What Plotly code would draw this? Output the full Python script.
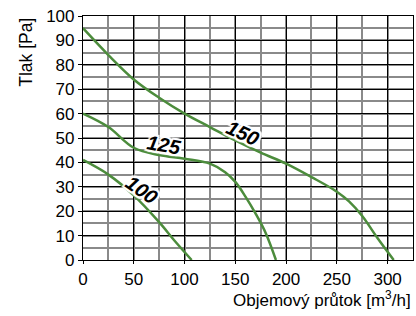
import plotly.graph_objects as go

# Data (flow m3/h, pressure Pa)
x150 = [0, 25, 50, 75, 100, 125, 150, 175, 200, 225, 250, 262, 275, 290, 306]
y150 = [95, 84, 74, 66.5, 60, 54.5, 49, 44, 39.5, 34, 28, 24, 18, 9, 0]

x125 = [0, 25, 50, 75, 100, 125, 140, 150, 160, 170, 180, 190]
y125 = [60, 54.5, 46, 43, 41.5, 39.5, 36, 32, 26, 19, 11, 0]

x100 = [0, 25, 50, 75, 90, 107]
y100 = [41, 35, 26.5, 15.5, 8, 0]

labels = ["150", "125", "100"]
label_x = [157, 80, 58]
label_y = [52, 47, 28.7]
label_angle = [25, 10, 35]

x_ticks = [0, 50, 100, 150, 200, 250, 300]
y_ticks = [0, 10, 20, 30, 40, 50, 60, 70, 80, 90, 100]

green = "#4c8c3c"
fnt = "Liberation Sans, Arial, sans-serif"

fig = go.Figure()
for xs, ys in [(x150, y150), (x125, y125), (x100, y100)]:
    fig.add_trace(go.Scatter(x=xs, y=ys, mode="lines",
                             line=dict(color=green, width=2.5, shape="spline", smoothing=1.0),
                             hoverinfo="skip", showlegend=False))

halo = ("2px 0 1px white, -2px 0 1px white, 0 2px 1px white, 0 -2px 1px white, "
        "2px 2px 1px white, -2px -2px 1px white, 2px -2px 1px white, -2px 2px 1px white")
for t, ax, ay, ang in zip(labels, label_x, label_y, label_angle):
    fig.add_annotation(x=ax, y=ay, text="<b><i>" + t + "</i></b>", showarrow=False,
                       textangle=ang, font=dict(family=fnt, size=20, color="black", shadow=halo))

fig.add_annotation(xref="paper", yref="paper", x=-0.175, y=1.0, xanchor="center", yanchor="top",
                   text="Tlak [Pa]", textangle=-90, showarrow=False,
                   font=dict(family=fnt, size=17.5, color="black"))
fig.add_annotation(xref="paper", yref="paper", x=1.0, y=-0.158, xanchor="right", yanchor="middle",
                   text="Objemový průtok [m<sup>3</sup>/h]", showarrow=False,
                   font=dict(family=fnt, size=17, color="black"))

fig.update_xaxes(range=[0, 325], tickvals=x_ticks, ticktext=[str(v) for v in x_ticks],
                 automargin=False,
                 showgrid=True, gridcolor="black", gridwidth=1.2,
                 minor=dict(dtick=25, tick0=0, showgrid=True, gridcolor="#8a8a8a", gridwidth=1.6),
                 showline=True, linecolor="black", linewidth=1.2, mirror=True,
                 ticks="outside", ticklen=3, tickcolor="black", tickwidth=1,
                 zeroline=False, tickfont=dict(family=fnt, size=17, color="black"))
fig.update_yaxes(range=[0, 100], tickvals=y_ticks, ticktext=[str(v) for v in y_ticks],
                 automargin=False,
                 showgrid=True, gridcolor="black", gridwidth=1.2,
                 minor=dict(dtick=5, tick0=0, showgrid=True, gridcolor="#8a8a8a", gridwidth=1.6),
                 showline=True, linecolor="black", linewidth=1.2, mirror=True,
                 ticks="outside", ticklen=4, tickcolor="black", tickwidth=1,
                 zeroline=False, tickfont=dict(family=fnt, size=17, color="black"))

fig.update_layout(width=416, height=316, margin=dict(l=83, r=3, t=16, b=56),
                  plot_bgcolor="white", paper_bgcolor="white")
fig.write_html("out.html", config={"displayModeBar": False},
               post_script="document.body.style.margin='0';document.body.style.padding='0';")
